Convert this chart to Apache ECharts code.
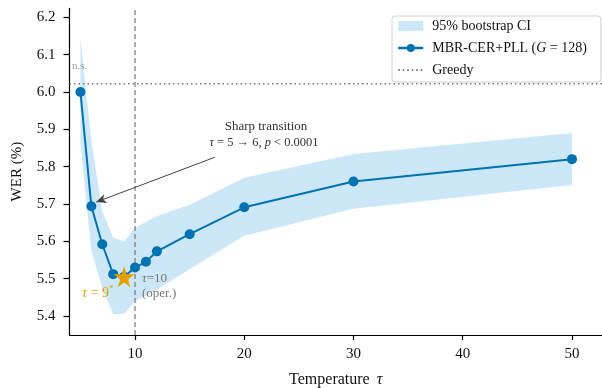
<!DOCTYPE html>
<html style="height: 100%">
   <head>
       <meta charset="utf-8">
   </head>
   <body style="height: 100%; margin: 0">
       <div id="container" style="width: 602px; height: 388px"></div>
       <script type="text/javascript" src="https://cdn.jsdelivr.net/npm/echarts@6/dist/echarts.min.js"></script>
       <script type="text/javascript">
// data
var tau    = [5, 6, 7, 8, 9, 10, 11, 12, 15, 20, 30, 50];
var wer    = [6.000, 5.694, 5.592, 5.512, 5.505, 5.530, 5.545, 5.573, 5.619, 5.691, 5.760, 5.820];
var ciLow  = [5.860, 5.575, 5.475, 5.405, 5.405, 5.440, 5.455, 5.470, 5.525, 5.615, 5.687, 5.751];
var ciHigh = [6.145, 5.870, 5.680, 5.610, 5.600, 5.636, 5.652, 5.668, 5.698, 5.770, 5.834, 5.890];
var greedyWer = 6.022;
var operTau = 10;
var bestTau = 9, bestWer = 5.505;
var xTicks = [10, 20, 30, 40, 50];
var yTicks = [5.4, 5.5, 5.6, 5.7, 5.8, 5.9, 6.0, 6.1, 6.2];
var xMin = 4, xMax = 52.75, yMin = 5.349, yMax = 6.224;

var SERIF = 'Liberation Serif';
var BLUE = '#0072B2', ORANGE = '#E69F00', BAND = '#cce8f8';
var NAME_CI = '95% bootstrap CI', NAME_MAIN = 'MBR-CER+PLL (G = 128)', NAME_GREEDY = 'Greedy';

var dom = document.getElementById("container");
var myChart = echarts.init(dom);

var option = {
    animation: false,
    grid: {left: 69.5, right: 0, top: 8.3, bottom: 53, containLabel: false, outerBoundsMode: 'none'},
    xAxis: {
        type: 'value', min: xMin, max: xMax,
        name: 'Temperature {i|τ}', nameLocation: 'middle', nameGap: 37,
        nameTextStyle: {fontFamily: SERIF, fontSize: 16, color: '#111', rich: {i: {fontFamily: SERIF, fontSize: 16, fontStyle: 'italic', color: '#111', padding: [0, 0, 0, 3]}}},
        axisLine: {lineStyle: {color: '#000', width: 1.2}},
        axisTick: {show: true, length: 5, customValues: xTicks, lineStyle: {color: '#000', width: 1.2}},
        axisLabel: {customValues: xTicks, margin: 12, fontFamily: SERIF, fontSize: 15, color: '#111'},
        splitLine: {show: false}
    },
    yAxis: {
        type: 'value', min: yMin, max: yMax,
        name: 'WER (%)', nameLocation: 'middle', nameGap: 45, nameRotate: 90,
        nameTextStyle: {fontFamily: SERIF, fontSize: 15, color: '#111'},
        axisLine: {show: true, lineStyle: {color: '#000', width: 1.2}},
        axisTick: {show: true, length: 6, customValues: yTicks, lineStyle: {color: '#000', width: 1.2}},
        axisLabel: {customValues: yTicks, margin: 14, fontFamily: SERIF, fontSize: 15, color: '#111',
            formatter: function (v) { return v.toFixed(1); }},
        splitLine: {show: false}
    },
    legend: {
        orient: 'vertical', left: 392, top: 16,
        padding: [3, 14, 5, 5], itemGap: 8, itemWidth: 25, itemHeight: 10,
        borderColor: '#d0d0d0', borderWidth: 1, borderRadius: 3, backgroundColor: '#fff',
        textStyle: {fontFamily: SERIF, fontSize: 14, color: '#111', padding: [0, 0, 0, 4],
            rich: {r: {fontFamily: SERIF, fontSize: 14, color: '#111'},
                   i: {fontFamily: SERIF, fontSize: 14, fontStyle: 'italic', color: '#111'}}},
        formatter: function (name) {
            if (name === NAME_MAIN) return '{r|MBR-CER+PLL (}{i|G}{r| = 128)}';
            return '{r|' + name + '}';
        },
        data: [
            {name: NAME_CI, icon: 'rect', itemStyle: {color: BAND}},
            {name: NAME_MAIN, lineStyle: {width: 2.5}},
            {name: NAME_GREEDY, itemStyle: {opacity: 0}}
        ]
    },
    series: [
        {
            name: NAME_CI, type: 'custom', silent: true, z: 1,
            itemStyle: {color: BAND},
            data: [0],
            renderItem: function (params, api) {
                var pts = [];
                for (var i = 0; i < tau.length; i++) pts.push(api.coord([tau[i], ciHigh[i]]));
                for (var j = tau.length - 1; j >= 0; j--) pts.push(api.coord([tau[j], ciLow[j]]));
                return {type: 'polygon', shape: {points: pts}, style: {fill: BAND}};
            }
        },
        {
            name: NAME_GREEDY, type: 'line', silent: true, z: 2,
            data: [[xMin, greedyWer], [xMax, greedyWer]],
            symbol: 'none', color: '#777',
            lineStyle: {color: '#777', width: 1.5, type: [1.5, 3]}
        },
        {
            name: 'oper', type: 'line', silent: true, z: 2,
            data: [[operTau, yMin], [operTau, yMax]],
            symbol: 'none',
            lineStyle: {color: '#777', width: 1.2, type: [5, 3]}
        },
        {
            name: NAME_MAIN, type: 'line', z: 5,
            data: tau.map(function (t, i) { return [t, wer[i]]; }),
            symbol: 'circle', symbolSize: 10, color: BLUE,
            itemStyle: {color: BLUE},
            lineStyle: {color: BLUE, width: 2},
            markLine: {
                silent: true, animation: false,
                label: {show: false},
                lineStyle: {color: '#444', width: 1, type: 'solid'},
                data: [[
                    {coord: [17.3, 5.825], symbol: 'none'},
                    {coord: [6.45, 5.705], symbol: 'arrow', symbolSize: [7, 10]}
                ]]
            }
        },
        {
            name: 'best', type: 'scatter', z: 10, silent: true,
            data: [[bestTau, bestWer]],
            symbol: 'path://M50,0 L61,35 L98,35 L68,57 L79,91 L50,70 L21,91 L32,57 L2,35 L39,35 Z',
            symbolSize: 21, itemStyle: {color: ORANGE, opacity: 1}
        }
    ],
    graphic: [
        {type: 'text', x: 72, y: 66, silent: true, z: 100,
         style: {text: 'n.s.', fontFamily: SERIF, fontSize: 11, fill: '#999', verticalAlign: 'middle'}},
        {type: 'text', x: 266, y: 127, silent: true, z: 100,
         style: {text: 'Sharp transition', fontFamily: SERIF, fontSize: 13, fill: '#333', align: 'center', verticalAlign: 'middle'}},
        {type: 'text', x: 264, y: 143, silent: true, z: 100,
         style: {text: '{i|τ} = 5 → 6, {i|p} < 0.0001', align: 'center', verticalAlign: 'middle',
            fontFamily: SERIF, fontSize: 12.5, fill: '#333',
            rich: {i: {fontFamily: SERIF, fontSize: 12.5, fontStyle: 'italic', fill: '#333'}}}},
        {type: 'text', x: 82, y: 293, silent: true, z: 100,
         style: {text: '{i|τ} = 9{s|*}', verticalAlign: 'middle', fontFamily: SERIF, fontSize: 14, fill: ORANGE,
            rich: {i: {fontFamily: SERIF, fontSize: 14, fontStyle: 'italic', fill: ORANGE},
                   s: {fontFamily: SERIF, fontSize: 9, fill: ORANGE, verticalAlign: 'top', padding: [0, 0, 8, 0]}}}},
        {type: 'text', x: 142, y: 279, silent: true, z: 100,
         style: {text: '{i|τ}=10', verticalAlign: 'middle', fontFamily: SERIF, fontSize: 13, fill: '#777',
            rich: {i: {fontFamily: SERIF, fontSize: 13, fontStyle: 'italic', fill: '#777'}}}},
        {type: 'text', x: 142, y: 294, silent: true, z: 100,
         style: {text: '(oper.)', verticalAlign: 'middle', fontFamily: SERIF, fontSize: 13, fill: '#777'}}
    ]
};

myChart.setOption(option);
       </script>
   </body>
</html>
